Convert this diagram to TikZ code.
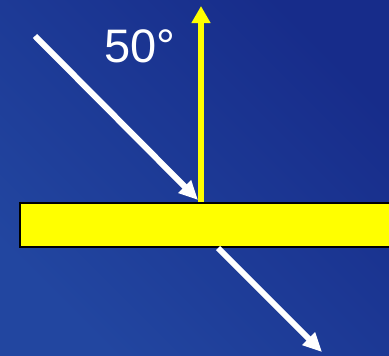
\documentclass[tikz,border=0pt]{standalone}
\usepackage{fontspec}
\setmainfont{Liberation Sans}
\usetikzlibrary{arrows.meta,positioning}
\definecolor{bgdark}{HTML}{172C8A}
\definecolor{bglite}{HTML}{2246A0}
\definecolor{plateyl}{HTML}{FFFF00}
\tikzset{
  plate/.style={rectangle, draw=black, fill=plateyl, line width=1.5pt,
                minimum width=380pt, minimum height=44pt, inner sep=0pt, anchor=north west},
  ray/.style={-{Triangle[length=19pt,width=17pt]}, line width=6pt, draw=white, color=white},
  normal/.style={-{Triangle[length=17pt,width=18pt]}, line width=6pt, draw=plateyl, color=plateyl},
  lbl/.style={font=\fontsize{47}{52}\selectfont, text=white, inner sep=0pt, anchor=base west},
}
\begin{document}
\begin{tikzpicture}[x=1pt, y=-1pt]
  % background
  \shade[top color=bgdark, bottom color=bglite, shading angle=-45]
    (0,0) rectangle (389,356);
  \useasboundingbox (0,0) rectangle (389,356);
  % plate and points
  \node[plate] (pl) at (19,202) {};
  \coordinate (src) at (35,36);
  \coordinate (hit) at (198,200);
  \coordinate (nb) at (201,202);
  \coordinate (nt) at (201,6);
  \coordinate (exit) at (218,248);
  \coordinate (out) at (322,352);
  \node[lbl] (ang) at (104,62) {50°};
  % rays
  \draw[normal] (nb) -- (nt);
  \draw[ray] (src) -- (hit);
  \draw[ray] (exit) -- (out);
\end{tikzpicture}
\end{document}
